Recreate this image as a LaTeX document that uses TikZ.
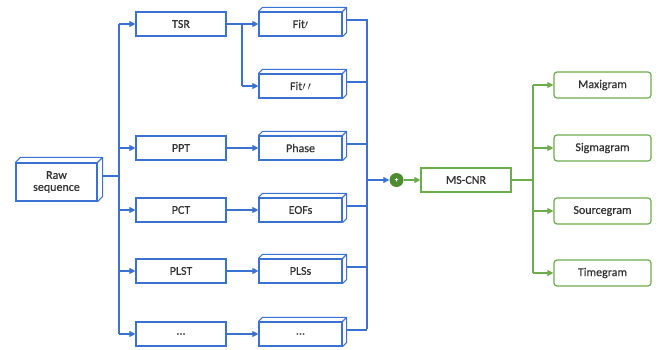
\documentclass[tikz,border=0pt]{standalone}
\usepackage{fontspec}
\setmainfont{Carlito}[FakeBold=0.6]
\usetikzlibrary{arrows.meta,calc}
\definecolor{bl}{RGB}{58,114,212}
\definecolor{gr}{RGB}{108,172,74}
\definecolor{dgr}{RGB}{78,140,48}
\definecolor{tx}{RGB}{50,50,50}
\tikzset{
  bbox/.style={draw=bl, line width=1.2pt, minimum width=90pt, minimum height=24pt, inner sep=0pt, text=tx, font=\fontsize{12}{13}\selectfont},
  cbox/.style={draw=bl, line width=1.2pt, minimum width=83pt, minimum height=24pt, inner sep=0pt, text=tx, font=\fontsize{12}{13}\selectfont},
  gbox/.style={draw=gr, line width=1.2pt, rounded corners=3pt, minimum width=97pt, minimum height=26pt, inner sep=0pt, text=tx, font=\fontsize{12}{13}\selectfont},
  mbox/.style={draw=gr, line width=1.2pt, minimum width=90pt, minimum height=24pt, inner sep=0pt, text=tx, font=\fontsize{12}{13}\selectfont},
  barr/.style={draw=bl, line width=1.1pt, -{Triangle[length=6pt,width=6pt]}},
  bline/.style={draw=bl, line width=1.1pt},
  garr/.style={draw=gr, line width=1.1pt, -{Triangle[length=6pt,width=6pt]}},
  gline/.style={draw=gr, line width=1.1pt},
  face/.style={draw=bl, line width=1.1pt, line join=round}
}
\begin{document}
\begin{tikzpicture}[x=1pt,y=-1pt]
\useasboundingbox (0,0) rectangle (660,350);
% raw
\node[cbox, minimum width=81pt, minimum height=38pt, align=center] (raw) at (56.5,182) {Raw\\[-1pt]sequence};
% first column
\node[bbox] (tsr) at (181,24) {TSR};
\node[bbox] (ppt) at (181,148) {PPT};
\node[bbox] (pct) at (181,210) {PCT};
\node[bbox] (plst) at (181,271) {PLST};
\node[bbox] (dots1) at (181,334) {...};
% second column
\node[cbox] (fit1) at (300.5,24) {Fit$\prime$};
\node[cbox] (fit2) at (300.5,86) {Fit$\prime\,\prime$};
\node[cbox] (phase) at (300.5,148) {Phase};
\node[cbox] (eofs) at (300.5,210) {EOFs};
\node[cbox] (pls) at (300.5,271) {PLSs};
\node[cbox] (dots2) at (300.5,334) {...};
% 3D faces
\draw[face] (raw.north west) -- ++(5,-5) -- ($(raw.north east)+(5,-5)$) -- ($(raw.south east)+(5,-5)$) -- (raw.south east) (raw.north east) -- ++(5,-5);
\foreach \n in {fit1,fit2,phase,eofs,pls,dots2}{
  \draw[face] (\n.north west) -- ++(4,-4) -- ($(\n.north east)+(4,-4)$) -- ($(\n.south east)+(4,-4)$) -- (\n.south east) (\n.north east) -- ++(4,-4);
}
% merge
\node[circle, fill=dgr, minimum size=14pt, inner sep=0pt, text=white, font=\fontsize{7}{7}\selectfont] (plus) at (396.5,180) {+};
\node[mbox] (ms) at (466,180) {MS-CNR};
% outputs
\node[gbox] (maxi) at (602.5,85) {Maxigram};
\node[gbox] (sigma) at (602.5,148) {Sigmagram};
\node[gbox] (source) at (602.5,211) {Sourcegram};
\node[gbox] (time) at (602.5,273) {Timegram};
% coordinates of buses
\coordinate (b1) at (119,176);
\coordinate (b2) at (367,180);
\coordinate (b3) at (533,180);
% left bus
\draw[bline] ([shift={(5,-6)}]raw.east) -- (b1);
\draw[bline] (b1 |- tsr) -- (b1 |- dots1);
\foreach \n in {tsr,ppt,pct,plst,dots1}{ \draw[barr] (b1 |- \n) -- (\n.west); }
% TSR branch
\draw[bline] (tsr.east) -- (242,24) -- (242,86);
\draw[barr] (242,24) -- (fit1.west);
\draw[barr] (242,86) -- (fit2.west);
\foreach \a/\b in {ppt/phase,pct/eofs,plst/pls,dots1/dots2}{ \draw[barr] (\a.east) -- (\b.west); }
% right bus
\draw[bline] (b2 |- fit1.north) ++(0,8) -- ($(b2 |- dots2.center)+(0,-5)$);
\foreach \n in {fit1,fit2,phase,eofs,pls,dots2}{ \draw[bline] ([shift={(4,-4)}]\n.east) -- ($(b2 |- \n.center)+(0,-4)$); }
\draw[barr] (b2) -- (plus.west);
\draw[garr] (plus.east) -- (ms.west);
% green bus
\draw[gline] (ms.east) -- (b3);
\draw[gline] (b3 |- maxi) -- (b3 |- time);
\foreach \n in {maxi,sigma,source,time}{ \draw[garr] (b3 |- \n) -- (\n.west); }
\end{tikzpicture}
\end{document}
